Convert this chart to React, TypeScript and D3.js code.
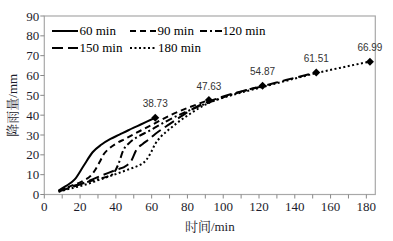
import React from "react";
import * as d3 from "d3";

const xTicks = [0, 20, 40, 60, 80, 100, 120, 140, 160, 180];
const yTicks = [0, 10, 20, 30, 40, 50, 60, 70, 80, 90];

const t60 = [8, 12, 17, 22, 27, 32, 37, 42, 47, 52, 57, 62];
const v60 = [2.0, 4.2, 7.6, 14.5, 21.3, 25.2, 28.0, 30.2, 32.4, 34.5, 36.6, 38.73];

const t90 = [8, 12, 17, 22, 26, 28.5, 31, 33, 36, 40, 45, 50, 56, 62, 70, 80, 92];
const v90 = [1.8, 3.4, 5.0, 7.0, 9.5, 12.5, 16.5, 20.0, 23.0, 25.6, 28.0, 30.4, 33.2, 36.0, 39.8, 43.6, 47.63];

const t120 = [8, 12, 17, 22, 27, 32, 36, 38.5, 41.5, 44, 48, 53, 58, 62, 70, 80, 92, 100, 110, 122];
const v120 = [1.7, 3.1, 4.5, 5.8, 7.0, 8.2, 9.3, 10.5, 15.5, 22.0, 26.4, 29.5, 31.8, 33.8, 37.8, 42.0, 46.4, 49.0, 51.8, 54.87];

const t150 = [8, 15, 22, 31, 40, 46, 48.5, 51.5, 55, 58, 62, 70, 78, 85, 92, 100, 110, 122, 135, 152];
const v150 = [1.5, 3.6, 5.8, 9.2, 12.4, 14.6, 16.8, 22.5, 25.5, 27.5, 30.5, 35.5, 40.3, 44.2, 46.9, 49.4, 52.0, 54.6, 57.7, 61.51];

const t180 = [8, 15, 22, 31, 40, 46, 50, 53.5, 57, 59.5, 62, 65, 70, 76, 82, 92, 100, 110, 122, 135, 152, 165, 182];
const v180 = [1.4, 3.1, 4.7, 7.5, 10.3, 12.3, 13.6, 14.9, 17.4, 21.0, 25.5, 29.0, 33.0, 37.3, 41.0, 46.2, 48.8, 51.4, 54.2, 57.3, 61.2, 63.8, 66.99];

const seriesNames = ["60 min", "90 min", "120 min", "150 min", "180 min"];
const endT = [62, 92, 122, 152, 182];
const endV = [38.73, 47.63, 54.87, 61.51, 66.99];
const endLabels = ["38.73", "47.63", "54.87", "61.51", "66.99"];

const W = 393;
const H = 241;
const L = 44.3, R = 375.3, T = 16, B = 194.5;

const serif = "'Liberation Serif', 'Times New Roman', Tinos, Times, 'Noto Serif CJK SC', 'Noto Sans CJK SC', serif";
const sans = "'Liberation Sans', Arial, sans-serif";

export default function App() {
  const x = d3.scaleLinear().domain([0, 185]).range([L, R]);
  const y = d3.scaleLinear().domain([0, 90]).range([B, T]);
  const line = d3
    .line<[number, number]>()
    .x((d) => x(d[0]))
    .y((d) => y(d[1]))
    .curve(d3.curveMonotoneX);

  const series = [
    { name: seriesNames[0], t: t60, v: v60, dash: "none", w: 2 },
    { name: seriesNames[1], t: t90, v: v90, dash: "6,4", w: 2 },
    { name: seriesNames[2], t: t120, v: v120, dash: "7,3,2,3", w: 2 },
    { name: seriesNames[3], t: t150, v: v150, dash: "11,5", w: 2 },
    { name: seriesNames[4], t: t180, v: v180, dash: "2,2.5", w: 2 },
  ];

  const minorX = d3.range(0, 181, 10);
  const r = 4;
  const diamond = `M0,${-r}L${r},0L0,${r}L${-r},0Z`;

  const legendPos = [
    { x1: 52, x2: 78, tx: 79.5, y: 31 },
    { x1: 130, x2: 157, tx: 157.5, y: 31 },
    { x1: 200, x2: 222, tx: 222.5, y: 31 },
    { x1: 52, x2: 78, tx: 79.5, y: 48 },
    { x1: 130, x2: 157, tx: 158, y: 48 },
  ];

  const txt = { fontFamily: serif, fontSize: 13, fill: "#1c1c2c" } as React.CSSProperties;

  return (
    <svg
      width={W}
      height={H}
      style={{ position: "absolute", left: 0, top: 0, display: "block", background: "#fff" }}
    >
      <rect x={0} y={0} width={W} height={H} fill="#fff" />
      <rect x={L} y={T} width={R - L} height={B - T} fill="none" stroke="#a8a8a8" strokeWidth={1.2} />
      {yTicks.map((v) => (
        <g key={"y" + v}>
          <line x1={L - 4} x2={L} y1={y(v)} y2={y(v)} stroke="#888" strokeWidth={1} />
          <text x={L - 5} y={y(v)} dy="0.35em" textAnchor="end" style={txt}>
            {v}
          </text>
        </g>
      ))}
      {minorX.map((v) => (
        <line key={"xm" + v} x1={x(v)} x2={x(v)} y1={B} y2={B + 4} stroke="#888" strokeWidth={1} />
      ))}
      {xTicks.map((v) => (
        <text key={"x" + v} x={x(v)} y={210.5} textAnchor="middle" style={txt}>
          {v}
        </text>
      ))}
      <text x={(L + R) / 2} y={231} textAnchor="middle" style={txt}>
        时间/min
      </text>
      <text
        transform={`translate(16.5, ${(T + B) / 2}) rotate(-90)`}
        textAnchor="middle"
        style={txt}
      >
        降雨量/mm
      </text>
      {series.map((s) => (
        <path
          key={s.name}
          d={line(s.t.map((t, i) => [t, s.v[i]] as [number, number])) || ""}
          fill="none"
          stroke="#000"
          strokeWidth={s.w}
          strokeDasharray={s.dash}
          strokeLinejoin="round"
        />
      ))}
      {endT.map((t, i) => (
        <g key={"m" + i}>
          <path d={diamond} transform={`translate(${x(t)},${y(endV[i])})`} fill="#000" />
          <text
            x={x(t)}
            y={y(endV[i]) - 10.5}
            textAnchor="middle"
            style={{ fontFamily: sans, fontSize: 10, fill: "#333" }}
          >
            {endLabels[i]}
          </text>
        </g>
      ))}
      {series.map((s, i) => (
        <g key={"lg" + i}>
          <line
            x1={legendPos[i].x1}
            x2={legendPos[i].x2}
            y1={legendPos[i].y}
            y2={legendPos[i].y}
            stroke="#000"
            strokeWidth={2}
            strokeDasharray={s.dash}
          />
          <text x={legendPos[i].tx} y={legendPos[i].y} dy="0.33em" style={{ ...txt, fill: "#000" }}>
            {s.name}
          </text>
        </g>
      ))}
    </svg>
  );
}
